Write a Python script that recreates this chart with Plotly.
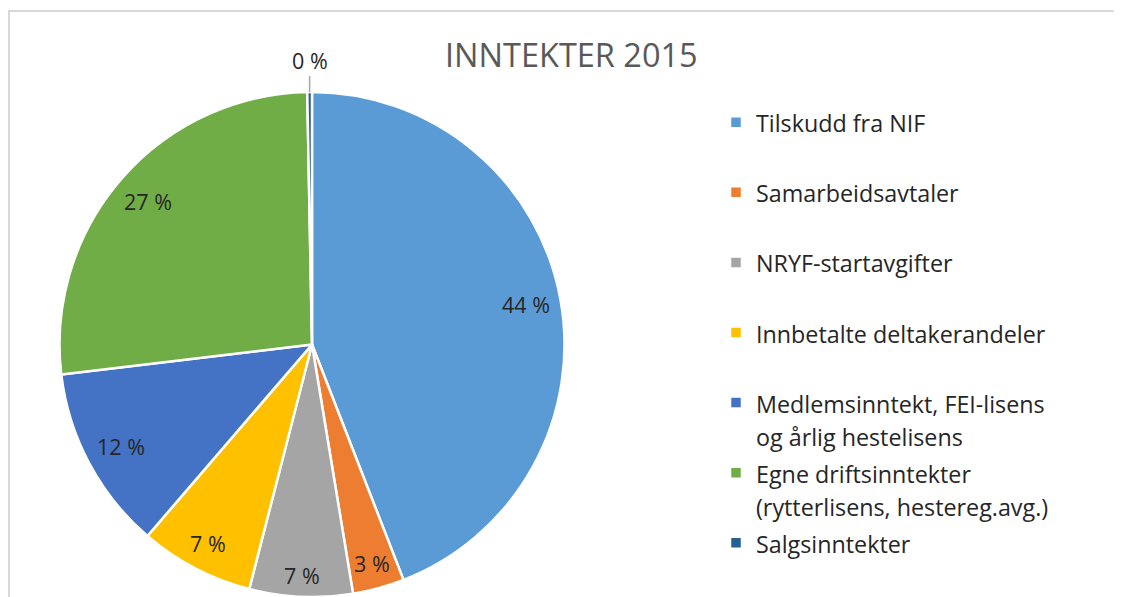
import math
import plotly.graph_objects as go

# the page adds an 8 px body margin, so the figure is 8 px smaller
W, H = 1114, 589

labels = [
    "Tilskudd fra NIF",
    "Samarbeidsavtaler",
    "NRYF-startavgifter",
    "Innbetalte deltakerandeler",
    "Medlemsinntekt, FEI-lisens<br>og årlig hestelisens",
    "Egne driftsinntekter<br>(rytterlisens, hestereg.avg.)",
    "Salgsinntekter",
]
values = [44.1, 3.3, 6.6, 7.3, 11.8, 26.6, 0.3]
colors = ["#5B9BD5", "#ED7D31", "#A5A5A5", "#FFC000", "#4472C4", "#70AD47", "#255E91"]

# pie placement (figure pixels)
CX, R = 304, 252.5
CY = H - R
TXT = "#262626"
FONT = "Open Sans"
LBL_SIZE = 21.5

# legend entries: two lines tall (except the last) so the spacing is even
leg_names = []
for i, lb in enumerate(labels):
    txt = lb if ("<br>" in lb or i == len(labels) - 1) else lb + "<br> "
    leg_names.append(f"<span style='font-size:23.3px'>{txt}</span>")

fig = go.Figure(go.Pie(
    labels=leg_names, values=values, sort=False, direction="clockwise", rotation=0,
    marker=dict(colors=colors, line=dict(color="white", width=2.5)),
    textinfo="none", hoverinfo="label+percent",
    domain=dict(x=[(CX - R) / W, (CX + R) / W], y=[0, 2 * R / H]),
))

# data labels: inside end of each slice, the text box kept clear of the rim
total = sum(values)
cum = 0
ann = []
for v in values:
    mid = (cum + v / 2) / total * 2 * math.pi
    cum += v
    pct = f"{round(v / total * 100)} %"
    if v / total < 0.01:
        px = CX + R * math.sin(mid)
        py = CY - R * math.cos(mid)
        ann.append(dict(x=px / W, y=1 - py / H, xref="paper", yref="paper", text=pct,
                        showarrow=True, arrowhead=0, arrowwidth=1.5, arrowcolor="#A6A6A6",
                        ax=0, ay=-32, standoff=0,
                        font=dict(family=FONT, size=LBL_SIZE, color=TXT)))
    else:
        bw = 0.55 * LBL_SIZE * len(pct)
        bh = LBL_SIZE
        half = bw / 2 * abs(math.sin(mid)) + bh / 2 * abs(math.cos(mid))
        d = R - half - 10
        px = CX + d * math.sin(mid)
        py = CY - d * math.cos(mid)
        ann.append(dict(x=px / W, y=1 - py / H, xref="paper", yref="paper", text=pct,
                        xanchor="center", yanchor="middle", showarrow=False,
                        font=dict(family=FONT, size=LBL_SIZE, color=TXT)))

ann.append(dict(x=563 / W, y=1 - 47 / H, xref="paper", yref="paper", text="INNTEKTER 2015",
                xanchor="center", yanchor="middle", showarrow=False,
                font=dict(family=FONT, size=32.5, color="#595959")))

fig.update_layout(
    width=W, height=H, paper_bgcolor="white", plot_bgcolor="white",
    margin=dict(l=0, r=0, t=0, b=0),
    font=dict(family=FONT, color=TXT),
    annotations=ann,
    showlegend=True,
    legend=dict(x=708 / W, y=1 - 91 / H, xanchor="left", yanchor="top",
                valign="top", font=dict(family=FONT, size=25.8, color=TXT),
                bgcolor="rgba(0,0,0,0)", itemclick=False),
    shapes=[dict(type="rect", xref="paper", yref="paper", x0=1 / W, y0=-0.05,
                 x1=1.05, y1=1 - 3 / H, line=dict(color="#D9D9D9", width=2))],
)

fig.write_html("out.html")
